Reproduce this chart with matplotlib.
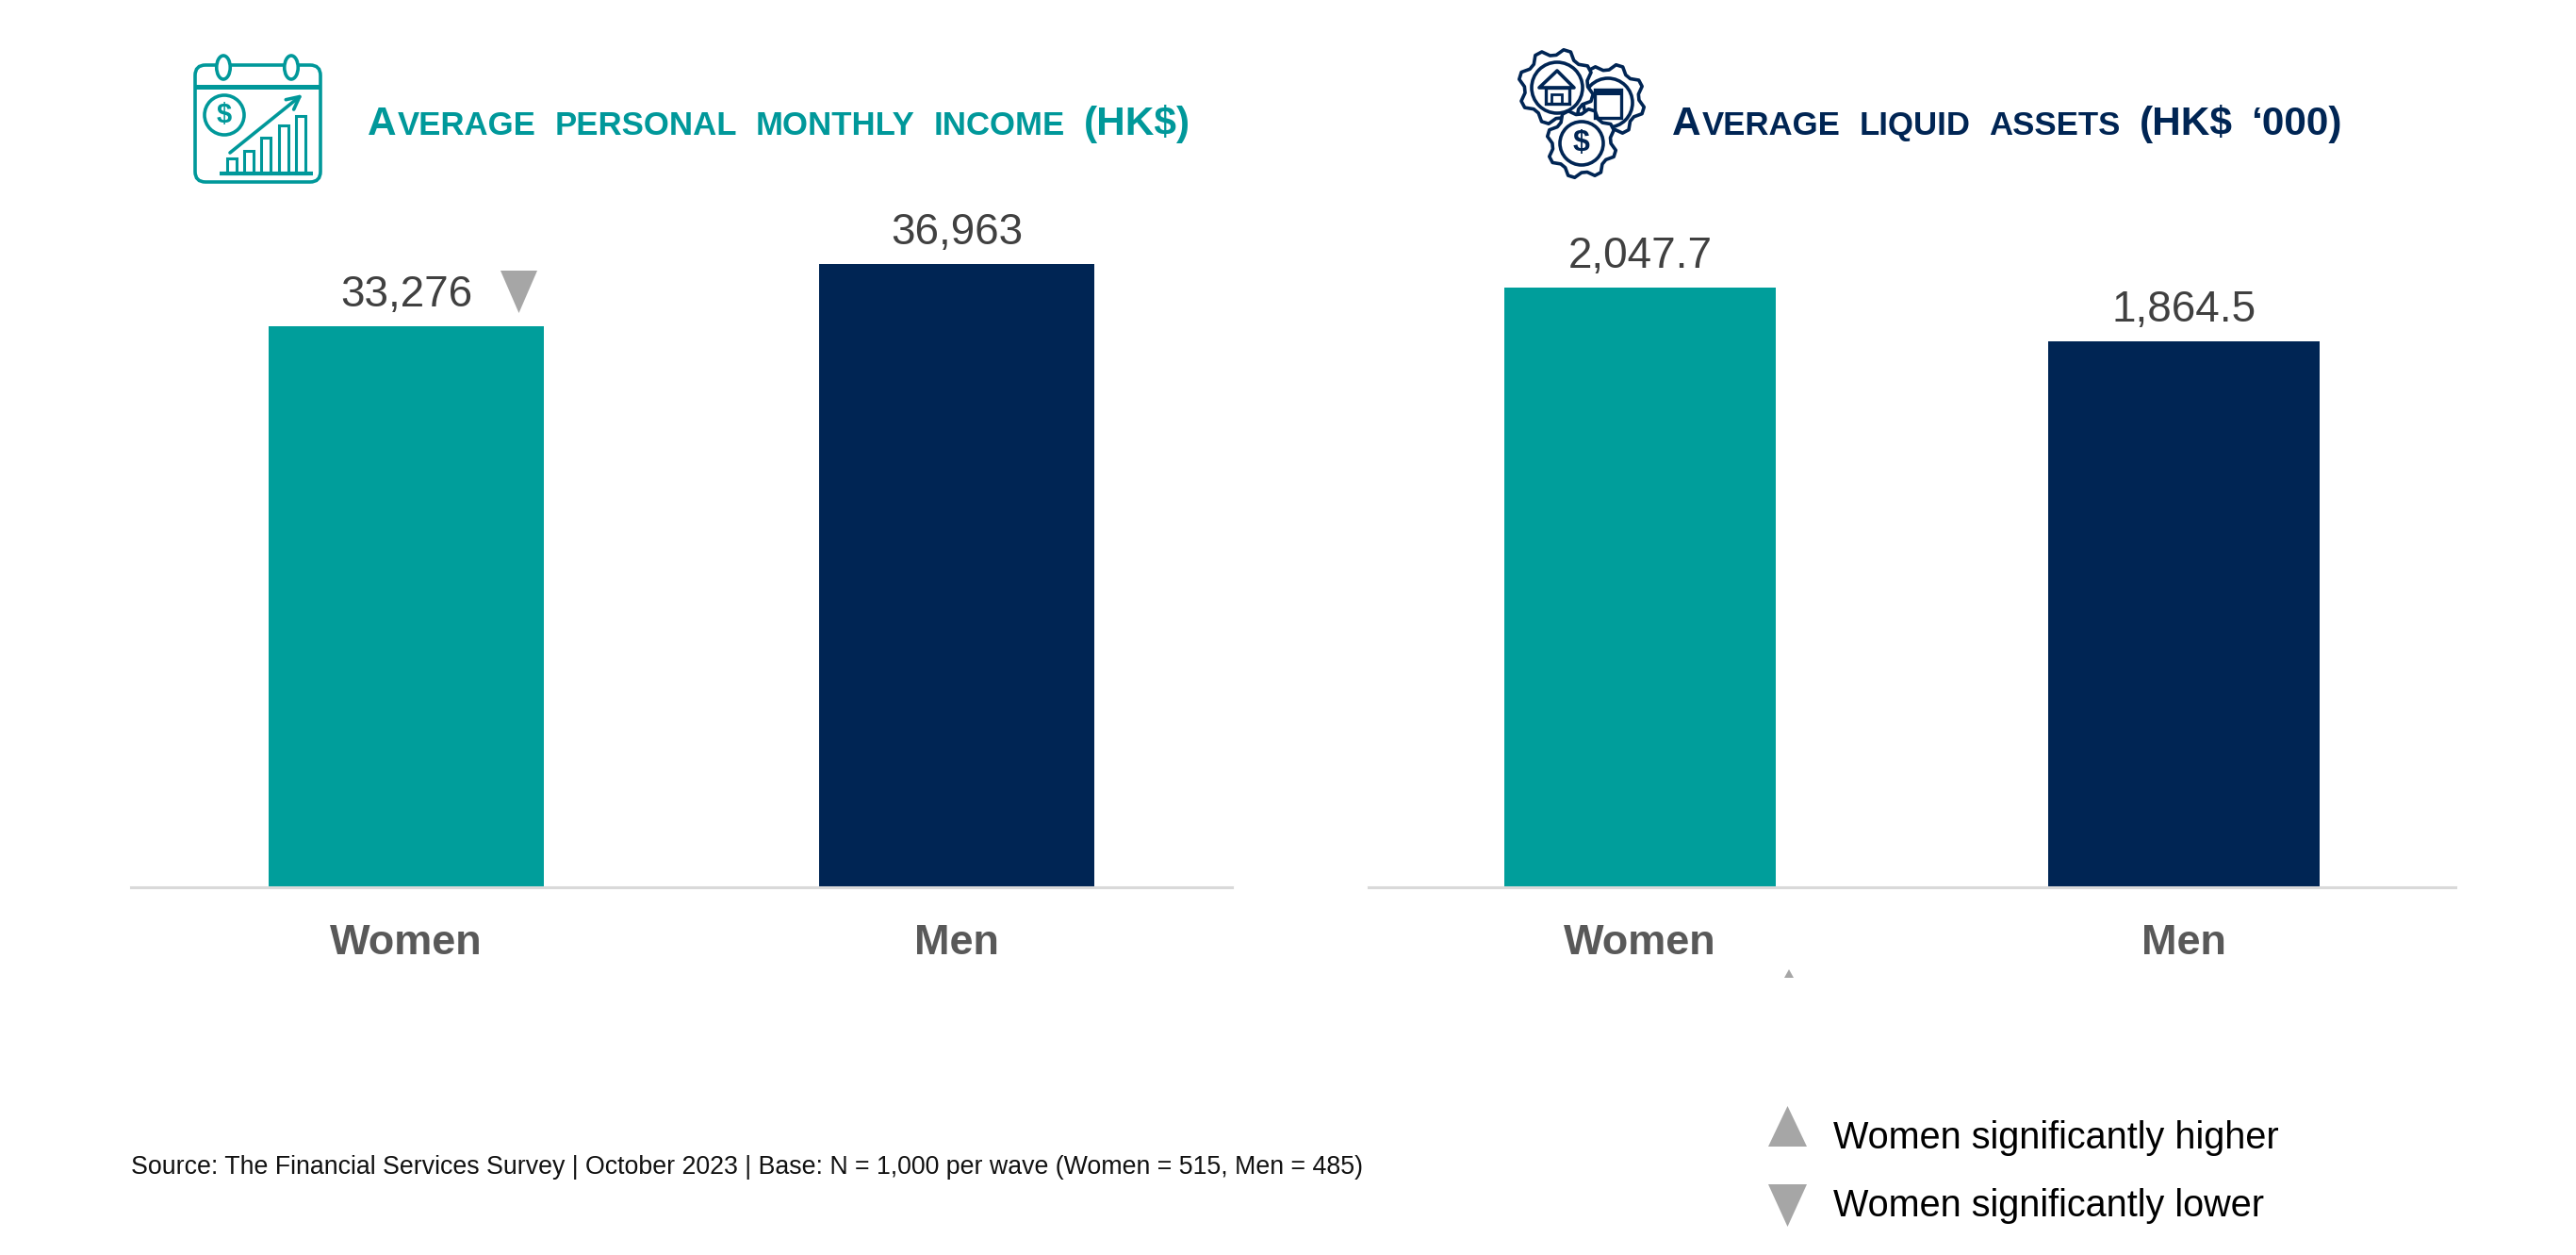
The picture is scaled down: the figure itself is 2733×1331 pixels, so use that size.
import numpy as np
import matplotlib
matplotlib.use("Agg")
import matplotlib.pyplot as plt
from matplotlib.patches import Circle, Ellipse, FancyBboxPatch, Polygon, Rectangle

plt.rcParams["font.family"] = ["Liberation Sans", "DejaVu Sans"]

# Data
categories = ["Women", "Men"]
income_values = [33276, 36963]
income_labels = ["33,276", "36,963"]
asset_values = [2047.7, 1864.5]
asset_labels = ["2,047.7", "1,864.5"]
bar_colors = ["#009E9B", "#002554"]

W, H = 2733, 1331
TEAL = "#00989A"
NAVY = "#002554"
GREY = "#A6A6A6"

fig = plt.figure(figsize=(W / 100, H / 100), dpi=100, facecolor="white")


def px_axes(x0, x1, y0, y1):
    # axes from pixel box, y measured from the top of the image
    return fig.add_axes([x0 / W, 1 - y1 / H, (x1 - x0) / W, (y1 - y0) / H])


def draw_panel(ax, values, labels, ymax):
    ax.spines["bottom"].set_position(("outward", 1))  # resets ticks, so do this first
    ax.bar(range(len(values)), values, width=0.5, color=bar_colors)
    ax.set_xlim(-0.5, 1.5)
    ax.set_ylim(0, ymax)
    ax.set_xticks(range(len(values)))
    ax.set_xticklabels(categories, fontsize=32.5, fontweight="bold", color="#595959")
    ax.tick_params(axis="x", length=0, pad=27.5)
    ax.set_yticks([])
    ax.patch.set_alpha(0)
    for side in ["top", "left", "right"]:
        ax.spines[side].set_visible(False)
    ax.spines["bottom"].set_color("#D9D9D9")
    ax.spines["bottom"].set_linewidth(2.2)
    for i, (v, lab) in enumerate(zip(values, labels)):
        ax.annotate(lab, (i, v), xytext=(0, 15), textcoords="offset points",
                    ha="center", va="baseline", fontsize=33, color="#404040")


ax_income = px_axes(139, 1307, 200, 940)
draw_panel(ax_income, income_values, income_labels, 41443)
ax_assets = px_axes(1452, 2605, 200, 940)
draw_panel(ax_assets, asset_values, asset_labels, 2386.3)

# overlay in image pixels for titles, icons and the legend
canvas = fig.add_axes([0, 0, 1, 1], zorder=5)
canvas.set_xlim(0, W)
canvas.set_ylim(H, 0)
canvas.axis("off")

renderer = fig.canvas.get_renderer()


def small_caps(x, baseline, words, color, target_w):
    # each word is a list of (text, fontsize) runs, gaps stretched to target_w
    items = []
    for word in words:
        runs = []
        for txt, size in word:
            t = canvas.text(0, baseline, txt, fontsize=size, fontweight="bold", color=color,
                            ha="left", va="baseline")
            runs.append((t, t.get_window_extent(renderer).width))
        items.append(runs)
    total = sum(w for runs in items for _, w in runs)
    gap = (target_w - total) / (len(items) - 1)
    for runs in items:
        for t, w in runs:
            t.set_x(x)
            x += w + 1
        x += gap


B, S = 30.5, 25
small_caps(390, 143,
           [[("A", B), ("VERAGE", S)], [("PERSONAL", S)], [("MONTHLY", S)], [("INCOME", S)], [("(HK$)", B)]],
           TEAL, 868)
small_caps(1774, 143,
           [[("A", B), ("VERAGE", S)], [("LIQUID", S)], [("ASSETS", S)], [("(HK$", B)], [("‘000)", B)]],
           NAVY, 706)

# significance triangles
canvas.add_patch(Polygon([(531, 287), (570, 287), (550.5, 332)], color=GREY, lw=0))
canvas.add_patch(Polygon([(1893, 1037), (1903, 1037), (1898, 1028)], color=GREY, lw=0))
canvas.add_patch(Polygon([(1876, 1216), (1917, 1216), (1896.5, 1173)], color=GREY, lw=0))
canvas.add_patch(Polygon([(1876, 1256), (1917, 1256), (1896.5, 1301)], color=GREY, lw=0))

canvas.text(1945, 1218, "Women significantly higher", fontsize=28.5, color="black", va="baseline")
canvas.text(1945, 1290, "Women significantly lower", fontsize=28.5, color="black", va="baseline")
canvas.text(139, 1245, "Source: The Financial Services Survey | October 2023 | Base: N = 1,000 per wave (Women = 515, Men = 485)",
            fontsize=19.3, color="#111111", va="baseline")

# calendar icon
canvas.add_patch(FancyBboxPatch((207, 69), 133, 124, boxstyle="round,pad=0,rounding_size=11",
                                fc="none", ec=TEAL, lw=2.6))
canvas.add_patch(Rectangle((206, 89.5), 135, 5, fc=TEAL, ec="none"))
for rx in [237, 309]:
    canvas.add_patch(Ellipse((rx, 71.5), 14.5, 25, fc="white", ec=TEAL, lw=2.6, zorder=3))
canvas.add_patch(Circle((238, 122), 21, fc="none", ec=TEAL, lw=2.6))
canvas.text(238, 122, "$", fontsize=21, fontweight="bold", color=TEAL, ha="center", va="center")
for bx, top in zip([246, 264, 282, 301, 319], [168, 160, 146, 133, 123]):
    canvas.add_patch(Rectangle((bx - 5, top), 10, 184 - top, fc="none", ec=TEAL, lw=2.2))
canvas.plot([233, 332], [184, 184], color=TEAL, lw=3, solid_capstyle="butt")
canvas.annotate("", xy=(321, 100), xytext=(244, 162),
                arrowprops=dict(arrowstyle="->", color=TEAL, lw=2.6, mutation_scale=24,
                                shrinkA=0, shrinkB=0))


# gears icon
def gear(cx, cy, r, teeth=8, phase=0.0):
    ang = np.linspace(0, 2 * np.pi, teeth * 4, endpoint=False) + phase
    rad = np.tile([r, r, r * 0.84, r * 0.84], teeth)
    return np.column_stack([cx + rad * np.cos(ang), cy + rad * np.sin(ang)])


for cx, cy, r, ix, iy, ir in [(1707, 106, 38, 1706, 109, 26), (1651, 92, 40, 1652, 93, 27), (1678, 152, 37, 1678, 152, 23)]:
    canvas.add_patch(Polygon(gear(cx, cy, r, phase=0.2), fc="white", ec=NAVY, lw=2.6, joinstyle="round"))
    canvas.add_patch(Circle((ix, iy), ir, fc="none", ec=NAVY, lw=2.6))
canvas.add_patch(Polygon([(1633, 93), (1652, 75), (1670, 93)], fc="white", ec=NAVY, lw=2.6, joinstyle="round"))
canvas.add_patch(Rectangle((1640, 93), 25, 17, fc="white", ec=NAVY, lw=2.4))
canvas.add_patch(Rectangle((1646, 100), 11, 10, fc="none", ec=NAVY, lw=2))
canvas.add_patch(Rectangle((1692, 95), 28, 30, fc="none", ec=NAVY, lw=2.4))
canvas.add_patch(Rectangle((1692, 95), 28, 6, fc=NAVY, ec="none"))
canvas.text(1678, 152, "$", fontsize=23, fontweight="bold", color=NAVY, ha="center", va="center")

fig.savefig("out.png", dpi=100, facecolor="white")
